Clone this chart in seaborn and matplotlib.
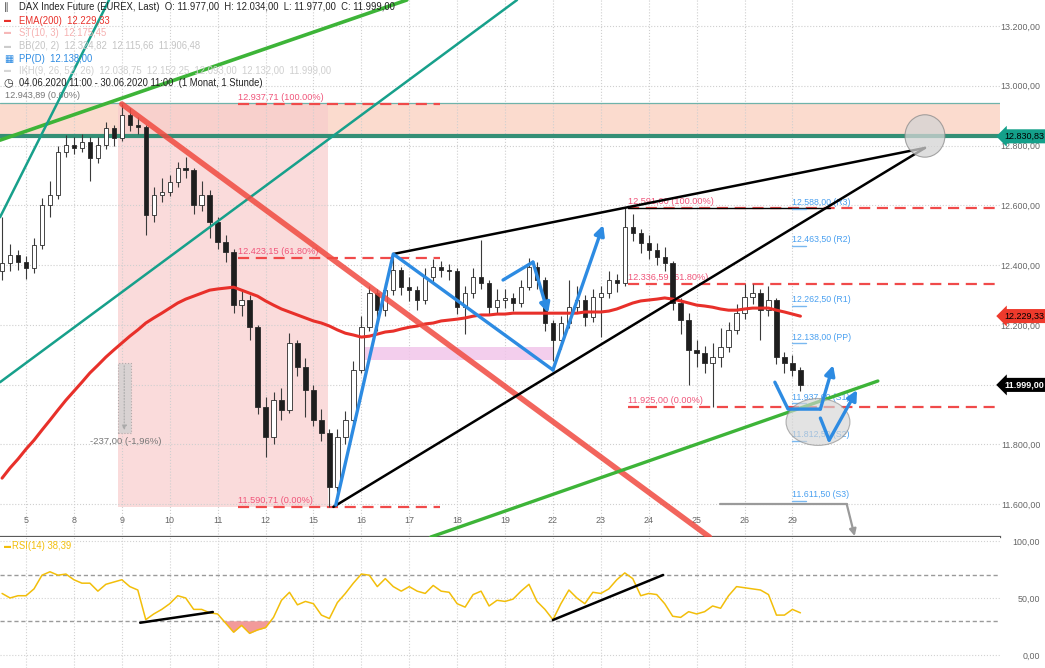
import numpy as np
import pandas as pd
import seaborn as sns
import matplotlib.pyplot as plt
from matplotlib.patches import Ellipse, Rectangle
from matplotlib.ticker import FuncFormatter

# DAX Index Future, 04.06.2020 - 30.06.2020, six bars per trading day
DAY_LABELS = ['5', '8', '9', '10', '11', '12', '15', '16', '17', '18', '19',
              '22', '23', '24', '25', '26', '29']
BARS_PER_DAY = 6
FIRST_DAY_BAR = 3

OPEN_FIRST = 12380
CLOSE = [12407, 12434, 12410, 12390, 12467, 12601, 12634, 12778, 12802, 12792,
         12812, 12758, 12802, 12859, 12825, 12902, 12869, 12862, 12567, 12634,
         12644, 12678, 12725, 12718, 12601, 12634, 12544, 12477, 12444, 12266,
         12283, 12193, 11925, 11824, 11948, 11915, 12139, 12059, 11982, 11881,
         11838, 11657, 11824, 11881, 12049, 12193, 12306, 12249, 12316, 12383,
         12326, 12316, 12283, 12360, 12393, 12385, 12380, 12260, 12306, 12360,
         12340, 12260, 12283, 12290, 12273, 12326, 12393, 12350, 12206, 12149,
         12206, 12260, 12283, 12226, 12293, 12306, 12350, 12340, 12527, 12507,
         12474, 12450, 12427, 12407, 12273, 12216, 12116, 12106, 12072, 12092,
         12126, 12183, 12239, 12293, 12306, 12249, 12283, 12092, 12072, 12049,
         11999]
HIGH = [12560, 12470, 12450, 12430, 12490, 12625, 12680, 12800, 12835, 12830,
        12840, 12830, 12830, 12880, 12870, 12939, 12925, 12895, 12870, 12660,
        12690, 12700, 12745, 12760, 12725, 12680, 12650, 12560, 12500, 12455,
        12320, 12300, 12200, 11960, 11975, 11990, 12172, 12150, 12090, 12000,
        11920, 11850, 11850, 11910, 12080, 12230, 12330, 12320, 12340, 12430,
        12395, 12360, 12330, 12390, 12420, 12415, 12405, 12390, 12330, 12390,
        12484, 12350, 12320, 12320, 12305, 12350, 12423, 12410, 12360, 12215,
        12230, 12350, 12330, 12300, 12320, 12330, 12380, 12370, 12591, 12570,
        12520, 12500, 12475, 12460, 12415, 12290, 12240, 12150, 12130, 12140,
        12190, 12210, 12270, 12335, 12335, 12320, 12330, 12290, 12110, 12100,
        12060]
LOW = [12350, 12380, 12385, 12355, 12375, 12455, 12560, 12620, 12760, 12770,
       12780, 12680, 12740, 12790, 12800, 12815, 12850, 12840, 12500, 12545,
       12610, 12630, 12660, 12690, 12570, 12580, 12490, 12455, 12410, 12240,
       12230, 12150, 11900, 11757, 11800, 11880, 11905, 12030, 11890, 11860,
       11810, 11590, 11620, 11800, 11870, 12040, 12180, 12180, 12230, 12300,
       12300, 12280, 12250, 12270, 12340, 12360, 12350, 12235, 12170, 12290,
       12320, 12235, 12240, 12255, 12245, 12260, 12315, 12320, 12180, 12080,
       12120, 12190, 12240, 12195, 12210, 12160, 12290, 12310, 12330, 12480,
       12440, 12420, 12400, 12380, 12250, 12170, 12000, 12060, 12040, 11925,
       12060, 12110, 12170, 12220, 12270, 12150, 12230, 12070, 12040, 12030,
       11977]
EMA200 = [11687, 11721, 11751, 11784, 11814, 11848, 11881, 11915, 11948, 11978,
          12008, 12039, 12065, 12092, 12116, 12139, 12162, 12183, 12206, 12223,
          12239, 12256, 12273, 12286, 12296, 12306, 12316, 12320, 12323, 12326,
          12316, 12306, 12296, 12280, 12266, 12253, 12243, 12233, 12223, 12213,
          12206, 12196, 12183, 12172, 12166, 12159, 12162, 12169, 12176, 12179,
          12186, 12192, 12196, 12203, 12206, 12213, 12216, 12219, 12223, 12229,
          12233, 12233, 12236, 12236, 12239, 12239, 12239, 12239, 12239, 12239,
          12239, 12239, 12239, 12243, 12243, 12243, 12246, 12253, 12263, 12273,
          12280, 12283, 12286, 12290, 12286, 12280, 12273, 12266, 12263, 12259,
          12253, 12249, 12249, 12253, 12256, 12256, 12256, 12249, 12243, 12236,
          12229]
RSI14 = [54, 50, 52, 52, 58, 70, 73, 70, 71, 66,
         63, 63, 56, 62, 64, 66, 60, 57, 31, 36,
         40, 45, 52, 50, 40, 40, 37, 36, 28, 20,
         26, 19, 22, 24, 33, 48, 55, 44, 47, 45,
         35, 32, 46, 54, 63, 71, 70, 60, 67, 60,
         56, 60, 56, 54, 61, 56, 55, 45, 42, 53,
         56, 43, 48, 47, 49, 56, 62, 47, 40, 31,
         45, 57, 50, 45, 55, 54, 58, 66, 72, 67,
         52, 54, 53, 45, 34, 33, 38, 36, 38, 43,
         41, 52, 60, 59, 58, 57, 53, 35, 35, 40,
         37]

# levels drawn on the chart
FIB_1 = [(12937.71, '12.937,71 (100.00%)'), (12423.15, '12.423,15 (61.80%)'),
         (11590.71, '11.590,71 (0.00%)')]
FIB_2 = [(12591.00, '12.591,00 (100.00%)'), (12336.59, '12.336,59 (61.80%)'),
         (11925.00, '11.925,00 (0.00%)')]
PIVOTS = [(12588.0, 'R3'), (12463.5, 'R2'), (12262.5, 'R1'), (12138.0, 'PP'),
          (11937.0, 'S1'), (11812.5, 'S2'), (11611.5, 'S3')]
ZONE_TOP, ZONE_BOTTOM = 12943.89, 12830.83
LAST_PRICE = 11999.00
EMA_LAST = 12229.33
RSI_LAST = 38.39

W, H = 1045, 668
BLUE = '#2d8be2'
TEAL = '#17a08b'
GREEN = '#3db438'
FIBRED = '#f04a4a'


def de(v, nd=2):
    s = f'{v:,.{nd}f}'
    return s.replace(',', ' ').replace('.', ',').replace(' ', '.')


def ftxt(x, y, s, **kw):
    fig.text(x / W, 1 - y / H, s, va='center', ha='left', **kw)


def arrow_path(ax, xs, ys, color, lw=2.4, zorder=8):
    ax.plot(xs[:-1], ys[:-1], color=color, lw=lw, solid_capstyle='round', zorder=zorder)
    ax.annotate('', xy=(xs[-1], ys[-1]), xytext=(xs[-2], ys[-2]), zorder=zorder,
                arrowprops=dict(arrowstyle='-|>', color=color, lw=lw,
                                mutation_scale=15, shrinkA=0, shrinkB=0))


df = pd.DataFrame({'bar': np.arange(len(CLOSE)), 'open': [OPEN_FIRST] + CLOSE[:-1],
                   'high': HIGH, 'low': LOW, 'close': CLOSE,
                   'ema': EMA200, 'rsi': RSI14})
day_bars = list(range(FIRST_DAY_BAR, FIRST_DAY_BAR + BARS_PER_DAY * len(DAY_LABELS), BARS_PER_DAY))

sns.set_style('white')
plt.rcParams['font.family'] = ['Liberation Sans', 'DejaVu Sans']

fig = plt.figure(figsize=(W / 100, H / 100), dpi=100)
ax = fig.add_axes([0, 131 / H, 1000 / W, 537 / H])
ax2 = fig.add_axes([0, 0, 1000 / W, 131 / H])

# ---------------- price panel ----------------
ax.set_xlim(-0.26, 125)
ax.set_ylim(11490, 13287)

# resistance zone and fib box
ax.axhspan(ZONE_BOTTOM, ZONE_TOP, color='#f9c9b4', alpha=0.65, lw=0, zorder=0.4)
ax.add_patch(Rectangle((14.5, FIB_1[2][0]), 26.3, FIB_1[0][0] - FIB_1[2][0],
                       fc='#f8cccc', alpha=0.7, lw=0, zorder=0.5))
ax.axhline(ZONE_TOP, color='#6fb3aa', lw=0.9, zorder=2)
ax.axhline(ZONE_BOTTOM, color='#348f76', lw=3, zorder=2)
ax.add_patch(Rectangle((44.8, 12082), 24.2, 44, fc='#f1c6ea', alpha=0.85, lw=0, zorder=1))

# fib retracements
for lvl, lab in FIB_1:
    ax.plot([29.6, 54.9], [lvl, lvl], color=FIBRED, lw=1.6, dashes=(5, 3), zorder=2.5)
    ax.text(29.6, lvl + 8, lab, color='#f0557a', fontsize=6.6, va='bottom', zorder=3)
for lvl, lab in FIB_2:
    ax.plot([78.4, 125], [lvl, lvl], color=FIBRED, lw=1.6, dashes=(5, 3), zorder=2.5)
    ax.text(78.4, lvl + 8, lab, color='#f0557a', fontsize=6.6, va='bottom', zorder=3)
ax.plot([78.4, 103.7], [12591, 12591], color='black', lw=1, zorder=2.6)
ax.text(0.4, ZONE_TOP + 8, de(ZONE_TOP) + ' (0.00%)', color='#777777', fontsize=6.6,
        va='bottom', zorder=3)

# pivot points (daily)
for lvl, name in PIVOTS:
    ax.plot([98.95, 100.7], [lvl, lvl], color='#7ab8f0', lw=1, zorder=3)
    ax.text(98.95, lvl + 6, f'{de(lvl)} ({name})', color='#4aa0f0', fontsize=6.3,
            va='bottom', zorder=3)

# candles
up = df['close'] >= df['open']
body_lo = df[['open', 'close']].min(axis=1)
body_h = (df['close'] - df['open']).abs().clip(lower=4)
ax.vlines(df['bar'], df['low'], df['high'], color='#3a3a3a', lw=0.8, zorder=3.5)
ax.bar(df['bar'], body_h, bottom=body_lo, width=0.55,
       color=np.where(up, 'white', '#1e1e1e'), edgecolor='#2a2a2a', linewidth=0.6, zorder=4)

# EMA(200)
sns.lineplot(data=df, x='bar', y='ema', ax=ax, color='#e8302a', linewidth=2.2, zorder=5)

# trend lines
ax.plot([-0.26, 50.7], [12818, 13287], color=GREEN, lw=2.6, zorder=6)
ax.plot([-0.26, 13.4], [12560, 13287], color=TEAL, lw=1.8, zorder=6)
ax.plot([-0.26, 64.5], [12008, 13287], color=TEAL, lw=1.8, zorder=6)
ax.plot([15.0, 88.6], [12939, 11490], color='#f04a40', lw=4, alpha=0.85, zorder=6)
ax.plot([49.0, 115.6], [12437, 12792], color='black', lw=1.8, zorder=6)
ax.plot([41.5, 115.6], [11590.71, 12792], color='black', lw=1.8, zorder=6)
ax.plot([53.7, 109.7], [11490, 12012], color=GREEN, lw=2.4, zorder=6)

ax.add_patch(Ellipse((115.6, 12832), 5.0, 142, fc='#d4d4d4', ec='#8a8a8a', alpha=0.75, lw=0.8, zorder=7))
ax.add_patch(Ellipse((102.2, 11875), 8.0, 157, fc='#d4d4d4', ec='#8a8a8a', alpha=0.65, lw=0.8, zorder=7))

arrow_path(ax, [41.8, 49.0, 69.0, 75.3], [11597, 12437, 12049, 12534], BLUE)
arrow_path(ax, [62.75, 66.5, 68.4], [12350, 12410, 12239], BLUE)
arrow_path(ax, [96.8, 98.45, 102.5, 104.1], [12008, 11918, 11918, 12065], BLUE)
arrow_path(ax, [102.5, 103.6, 107.1], [11888, 11814, 11982], BLUE)

# gray target arrow
ax.plot([89.9, 105.8], [11600, 11600], color='#9a9a9a', lw=1.6, zorder=6)
ax.annotate('', xy=(106.8, 11493), xytext=(105.8, 11600), zorder=6,
            arrowprops=dict(arrowstyle='-|>', color='#9a9a9a', lw=1.6, mutation_scale=10,
                            shrinkA=0, shrinkB=0))

# measure tool
ax.add_patch(Rectangle((14.5, 11838), 1.6, 234, fc='#d8d2d2', ec='#b4aaaa', lw=0.8,
                       ls=':', zorder=6))
ax.annotate('', xy=(15.3, 11838), xytext=(15.3, 12072), zorder=6,
            arrowprops=dict(arrowstyle='-|>', color='#aaaaaa', lw=0.8, ls=':', mutation_scale=7))
ax.text(11.0, 11808, '-237,00 (-1,96%)', color='#777777', fontsize=6.8, va='center', zorder=6)

# axes cosmetics
ax.set_xlabel('')
ax.set_ylabel('')
ax.set_xticks(day_bars)
ax.set_xticklabels(DAY_LABELS)
ax.set_yticks(range(11600, 13201, 200))
# 12.000 sits under the last-price tag
ax.yaxis.set_major_formatter(FuncFormatter(lambda v, p: '' if v == 12000 else de(v)))
ax.yaxis.tick_right()
ax.tick_params(axis='y', length=0, pad=29, labelsize=6.4, labelcolor='#666666')
plt.setp(ax.get_yticklabels(), ha='right')
ax.tick_params(axis='x', direction='in', length=4, pad=-15, labelsize=6.4,
               labelcolor='#666666', color='#777777')
ax.grid(True, color='#cfcfcf', ls=':', lw=0.8)
ax.set_axisbelow(True)
for s in ['top', 'left', 'right']:
    ax.spines[s].set_visible(False)
ax.spines['bottom'].set_color('#5a5a5a')
ax.spines['bottom'].set_linewidth(1.6)

# price tags on the right
tag_tr = ax.get_yaxis_transform()
ax.text(1.004, ZONE_BOTTOM, de(ZONE_BOTTOM), transform=tag_tr, fontsize=6.5, color='black',
        va='center', ha='left', clip_on=False, zorder=20,
        bbox=dict(boxstyle='larrow,pad=0.28', fc='#14a08a', ec='none'))
ax.text(1.004, EMA_LAST, de(EMA_LAST), transform=tag_tr, fontsize=6.5, color='black',
        va='center', ha='left', clip_on=False, zorder=20,
        bbox=dict(boxstyle='larrow,pad=0.28', fc='#ee3a2c', ec='none'))
ax.text(1.004, LAST_PRICE, de(LAST_PRICE), transform=tag_tr, fontsize=6.5, color='white',
        fontweight='bold', va='center', ha='left', clip_on=False, zorder=20,
        bbox=dict(boxstyle='larrow,pad=0.28', fc='black', ec='none'))

# ---------------- RSI panel ----------------
ax2.set_xlim(-0.26, 125)
ax2.set_ylim(-11.4, 103.5)
ax2.fill_between(df['bar'], df['rsi'], 30, where=df['rsi'] < 30, interpolate=True,
                 color='#f29a9a', lw=0, zorder=2)
sns.lineplot(data=df, x='bar', y='rsi', ax=ax2, color='#f2be0a', linewidth=1.1, zorder=3)
ax2.axhline(70, color='#9a9a9a', lw=1, dashes=(3, 2), zorder=1)
ax2.axhline(30, color='#9a9a9a', lw=1, dashes=(3, 2), zorder=1)
ax2.plot([17.3, 26.4], [28.3, 37.7], color='black', lw=1.8, zorder=4)
ax2.plot([69.0, 82.8], [30.7, 70.2], color='black', lw=1.8, zorder=4)
ax2.set_xlabel('')
ax2.set_ylabel('')
ax2.set_xticks(day_bars)
ax2.set_xticklabels([])
ax2.set_yticks([0, 50, 100])
ax2.yaxis.set_major_formatter(FuncFormatter(lambda v, p: de(v)))
ax2.yaxis.tick_right()
ax2.tick_params(axis='y', length=0, pad=29, labelsize=6.4, labelcolor='#666666')
plt.setp(ax2.get_yticklabels(), ha='right')
ax2.tick_params(axis='x', direction='out', length=3, color='#888888')
ax2.grid(True, color='#d2d2d2', ls=':', lw=0.8)
ax2.set_axisbelow(True)
for s in ['top', 'left', 'right', 'bottom']:
    ax2.spines[s].set_visible(False)

# ---------------- header legend ----------------
ftxt(4, 7, '\u2225', fontsize=7, color='#444444')
ftxt(19, 7, 'DAX Index Future (EUREX, Last)  O: 11.977,00  H: 12.034,00  L: 11.977,00  C: 11.999,00',
     fontsize=6.85, color='#222222')
ftxt(4, 21, '\u25AC', fontsize=5, color='#e8302a')
ftxt(19, 21, 'EMA(200)  12.229,33', fontsize=6.85, color='#e8302a')
ftxt(4, 33, '\u25AC', fontsize=5, color='#f6b8b8')
ftxt(19, 33, 'ST(10, 3)  12.175,45', fontsize=6.85, color='#f6b0b0')
ftxt(4, 46, '\u25AC', fontsize=5, color='#cccccc')
ftxt(19, 46, 'BB(20, 2)  12.324,82  12.115,66  11.906,48', fontsize=6.85, color='#c4c4c4')
ftxt(4, 59, '\u25A6', fontsize=7, color=BLUE)
ftxt(19, 59, 'PP(D)  12.138,00', fontsize=6.85, color=BLUE)
ftxt(4, 71, '\u25AC', fontsize=5, color='#d6d6d6')
ftxt(19, 71, 'IKH(9, 26, 52, 26)  12.038,75  12.152,25  12.093,00  12.132,00  11.999,00',
     fontsize=6.85, color='#cfcfcf')
ftxt(3, 83, '\u25F7', fontsize=8, color='#333333')
ftxt(19, 83, '04.06.2020 11:00 - 30.06.2020 11:00  (1 Monat, 1 Stunde)', fontsize=6.85,
     color='#222222')
ftxt(4, 546, '\u25AC', fontsize=5, color='#f2be0a')
ftxt(12, 546, f'RSI(14) {de(RSI_LAST)}', fontsize=6.85, color='#f2be0a')

fig.savefig('out.png', dpi=100)
